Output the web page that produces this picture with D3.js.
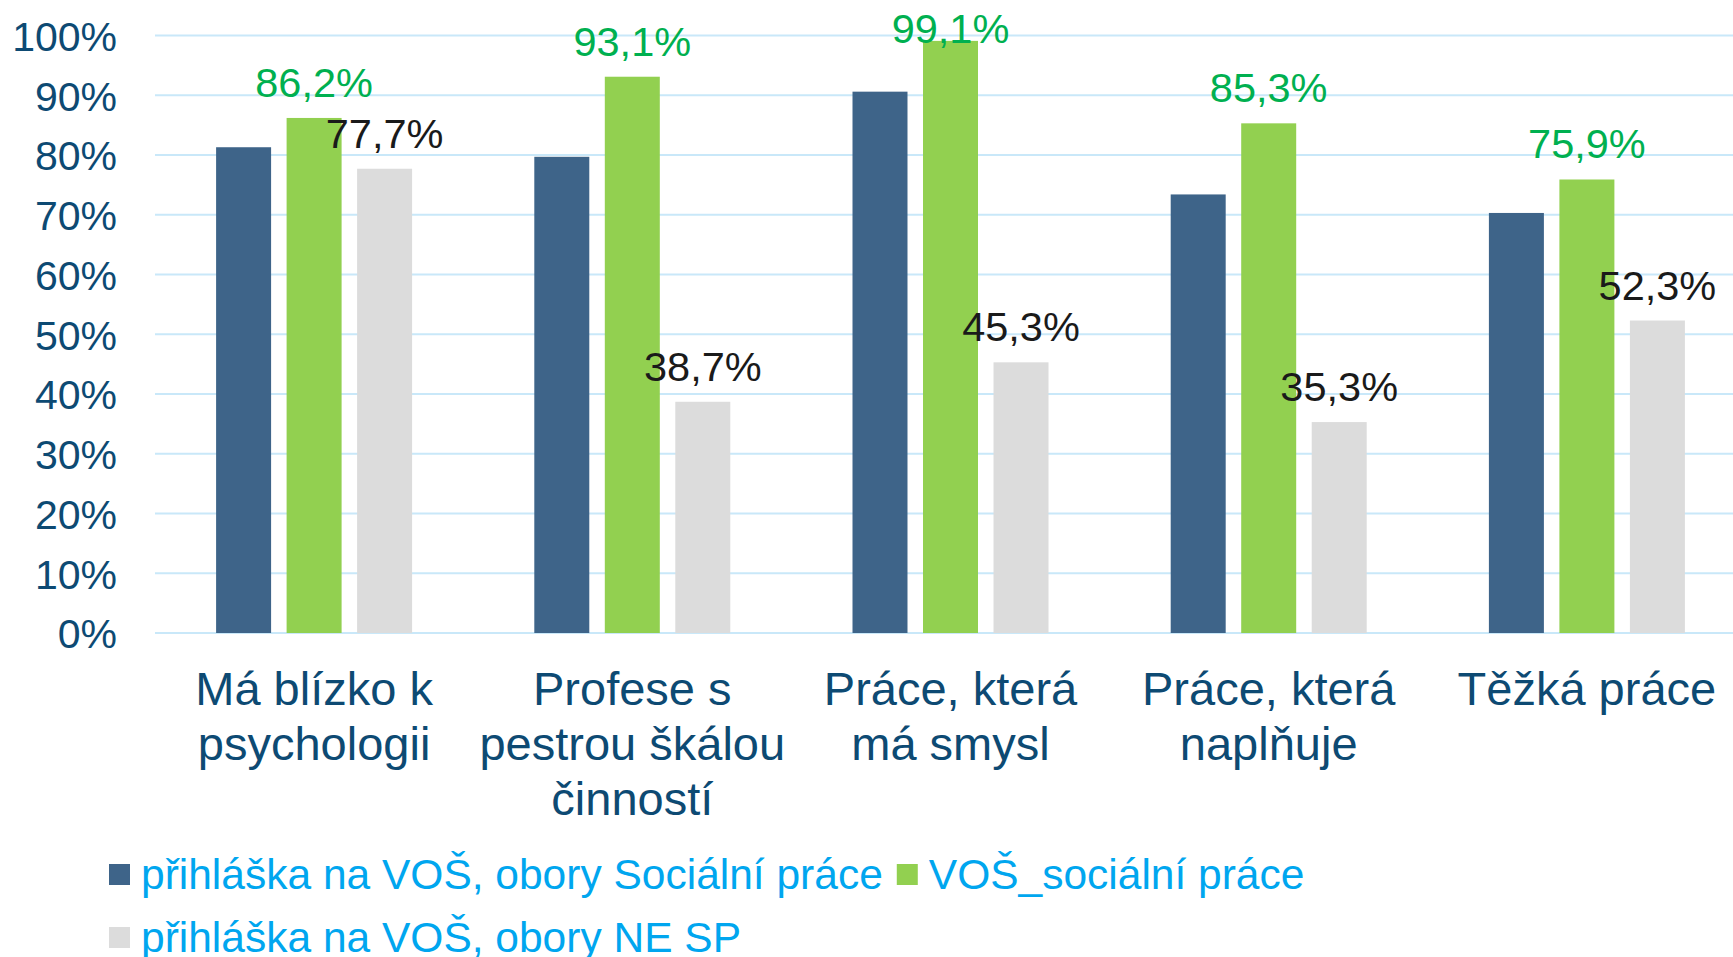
<!DOCTYPE html>
<html>
<head>
<meta charset="utf-8">
<script src="https://cdn.jsdelivr.net/npm/d3@7"></script>
<style>
  body { margin: 0; background: #fff; overflow: hidden; }
  svg { display: block; font-family: "Liberation Sans", Arial, sans-serif; }
</style>
</head>
<body>
<svg id="chart" width="1733" height="957"></svg>
<script>
// categories (line breaks as in the original)
const categories = [
  "Má blízko k\npsychologii",
  "Profese s\npestrou škálou\nčinností",
  "Práce, která\nmá smysl",
  "Práce, která\nnaplňuje",
  "Těžká práce"
];

const seriesNames = [
  "přihláška na VOŠ, obory Sociální práce",
  "VOŠ_sociální práce",
  "přihláška na VOŠ, obory NE SP"
];

// values (share of respondents)
const prihlaskaSP = [0.813, 0.797, 0.906, 0.734, 0.703];
const vosSP = [0.862, 0.931, 0.991, 0.853, 0.759];
const prihlaskaNeSP = [0.777, 0.387, 0.453, 0.353, 0.523];

const yTicks = [0, 0.1, 0.2, 0.3, 0.4, 0.5, 0.6, 0.7, 0.8, 0.9, 1];

const colors = ["#3e6489", "#92d050", "#dcdcdc"];
const labelColors = [null, "#00b050", "#1a1a1a"]; // first series has no labels

const allSeries = [prihlaskaSP, vosSP, prihlaskaNeSP];

const svg = d3.select("#chart");

// scales
const x0 = d3.scaleBand()
  .domain(categories)
  .range([155, 1746]);

const groupW = 196;
const x1 = d3.scaleBand()
  .domain(d3.range(3))
  .range([(x0.bandwidth() - groupW) / 2, (x0.bandwidth() + groupW) / 2])
  .paddingInner(0.22);

const y = d3.scaleLinear()
  .domain([0, 1])
  .range([633, 35.5]);

const fmt = v => d3.format(".1f")(v * 100).replace(".", ",") + "%";

// gridlines
svg.append("g")
  .selectAll("line")
  .data(yTicks)
  .join("line")
  .attr("x1", 155)
  .attr("x2", 1733)
  .attr("y1", d => y(d))
  .attr("y2", d => y(d))
  .attr("stroke", "#c9e8f9")
  .attr("stroke-width", 2);

// y axis (labels only)
const yAxis = svg.append("g")
  .attr("transform", "translate(117,0)")
  .call(d3.axisLeft(y).tickValues(yTicks).tickFormat(d3.format(".0%")).tickSize(0).tickPadding(0));
yAxis.select(".domain").remove();
yAxis.selectAll("text")
  .attr("font-family", "'Liberation Sans', Arial, sans-serif")
  .attr("font-size", 41)
  .attr("fill", "#0d4a73")
  .attr("dy", "0.36em");

// bars
const groups = svg.append("g")
  .selectAll("g")
  .data(categories)
  .join("g")
  .attr("transform", d => `translate(${x0(d)},0)`);

groups.selectAll("rect")
  .data((d, i) => allSeries.map((s, k) => ({ k, v: s[i] })))
  .join("rect")
  .attr("x", d => x1(d.k))
  .attr("width", x1.bandwidth())
  .attr("y", d => y(d.v))
  .attr("height", d => y(0) - y(d.v))
  .attr("fill", d => colors[d.k]);

// data labels for series 2 and 3
groups.selectAll("text.val")
  .data((d, i) => allSeries.map((s, k) => ({ k, v: s[i] })).filter(d => d.k > 0))
  .join("text")
  .attr("class", "val")
  .attr("x", d => x1(d.k) + x1.bandwidth() / 2)
  .attr("y", d => Math.max(y(d.v) - 21, 43))
  .attr("text-anchor", "middle")
  .attr("font-size", 41.5)
  .attr("fill", d => labelColors[d.k])
  .text(d => fmt(d.v));

// category labels
svg.append("g")
  .selectAll("text")
  .data(categories)
  .join("text")
  .attr("x", d => x0(d) + x0.bandwidth() / 2)
  .attr("y", 705)
  .attr("text-anchor", "middle")
  .attr("font-size", 47)
  .attr("fill", "#0d4a73")
  .selectAll("tspan")
  .data(d => d.split("\n"))
  .join("tspan")
  .attr("x", function () { return this.parentNode.getAttribute("x"); })
  .attr("dy", (d, i) => i === 0 ? 0 : 55)
  .text(d => d);

// legend: two items in first row, one in second
const legendRows = [[0, 1], [2]];
const legend = svg.append("g");
legendRows.forEach((row, r) => {
  let lx = 109;
  const ly = 864 + r * 63;
  row.forEach(k => {
    legend.append("rect")
      .attr("x", lx)
      .attr("y", ly)
      .attr("width", 21)
      .attr("height", 21)
      .attr("fill", colors[k]);
    const t = legend.append("text")
      .attr("x", lx + 32)
      .attr("y", ly + 25)
      .attr("font-size", 42.5)
      .attr("fill", "#00a6ef")
      .text(seriesNames[k]);
    lx += 32 + t.node().getComputedTextLength() + 14;
  });
});
</script>
</body>
</html>
